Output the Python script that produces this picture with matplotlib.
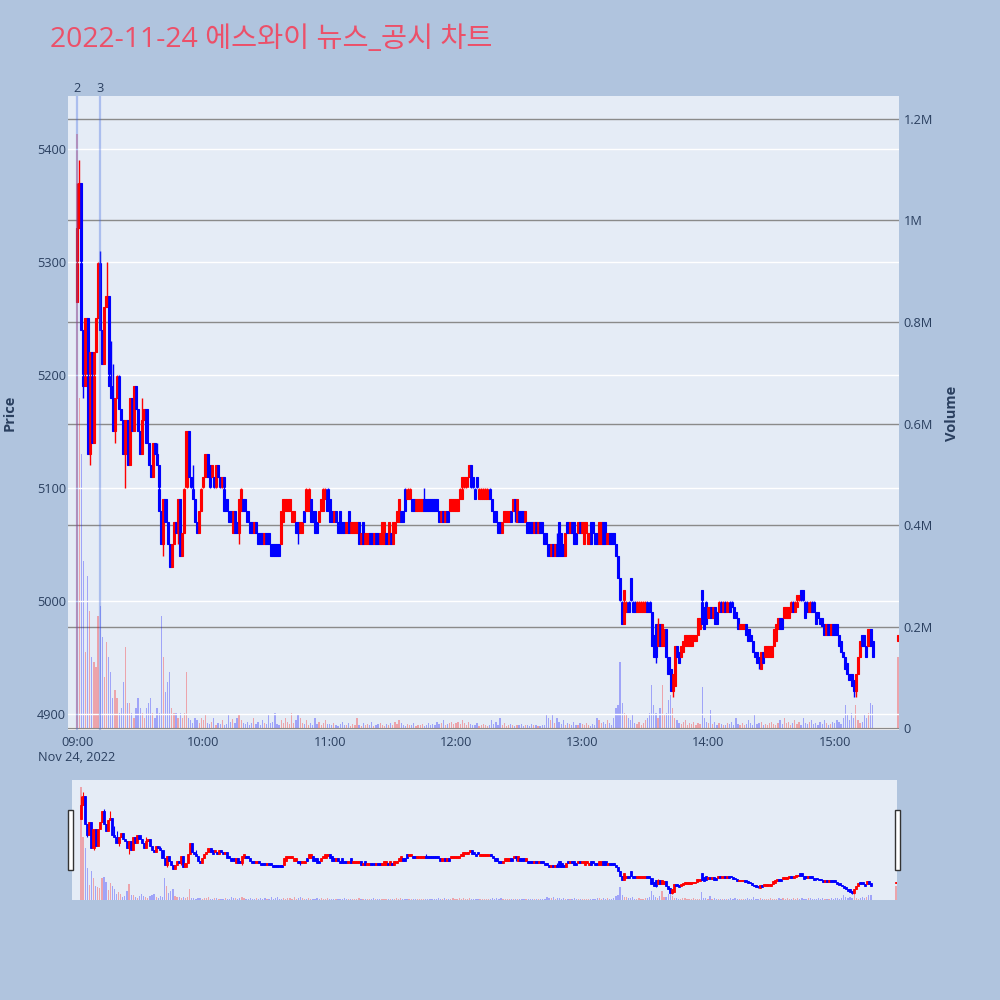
import matplotlib
matplotlib.use('Agg')
import matplotlib.pyplot as plt
from matplotlib.patches import Rectangle
import matplotlib.transforms as mtransforms

plt.rcParams['font.family'] = ['Open Sans', 'Noto Sans CJK KR', 'DejaVu Sans']

title = '2022-11-24 에스와이 뉴스_공시 차트'
date_label = 'Nov 24, 2022'
hour_labels = ['09:00', '10:00', '11:00', '12:00', '13:00', '14:00', '15:00']
hour_minutes = [0, 60, 120, 180, 240, 300, 360]
price_ticks = [4900, 5000, 5100, 5200, 5300, 5400]
volume_ticks = [0, 200000, 400000, 600000, 800000, 1000000, 1200000]
volume_tick_labels = ['0', '0.2M', '0.4M', '0.6M', '0.8M', '1M', '1.2M']
news_minutes = [0, 11]
news_labels = ['2', '3']

# minute index from 09:00 (continuous session 0..378, closing auction at 390)
minutes = list(range(379)) + [390]
opens = [
    5265, 5330, 5370, 5240, 5190, 5250, 5130, 5220, 5140, 5220,
    5250, 5300, 5240, 5210, 5260, 5270, 5190, 5180, 5150, 5180,
    5200, 5170, 5160, 5130, 5160, 5120, 5180, 5150, 5190, 5170,
    5150, 5130, 5160, 5170, 5140, 5120, 5110, 5140, 5130, 5120,
    5080, 5050, 5090, 5070, 5050, 5030, 5050, 5070, 5060, 5090,
    5040, 5060, 5100, 5150, 5110, 5100, 5090, 5070, 5060, 5080,
    5100, 5110, 5130, 5120, 5110, 5110, 5100, 5120, 5110, 5100,
    5110, 5090, 5080, 5080, 5060, 5080, 5070, 5060, 5080, 5090,
    5090, 5080, 5070, 5070, 5060, 5070, 5060, 5060, 5060, 5050,
    5060, 5060, 5050, 5050, 5050, 5050, 5050, 5050, 5070, 5080,
    5080, 5080, 5070, 5070, 5070, 5070, 5060, 5060, 5080, 5080,
    5080, 5090, 5080, 5080, 5070, 5070, 5080, 5080, 5090, 5100,
    5090, 5080, 5070, 5080, 5070, 5080, 5070, 5070, 5060, 5080,
    5060, 5060, 5060, 5060, 5070, 5050, 5070, 5050, 5050, 5060,
    5060, 5050, 5060, 5060, 5050, 5050, 5050, 5060, 5050, 5060,
    5050, 5060, 5070, 5070, 5080, 5080, 5100, 5090, 5090, 5090,
    5090, 5080, 5080, 5080, 5080, 5090, 5090, 5090, 5090, 5090,
    5090, 5090, 5080, 5070, 5080, 5070, 5080, 5080, 5080, 5080,
    5080, 5080, 5090, 5090, 5100, 5100, 5110, 5120, 5110, 5100,
    5110, 5090, 5090, 5090, 5090, 5090, 5100, 5090, 5080, 5080,
    5070, 5070, 5060, 5070, 5070, 5070, 5080, 5080, 5090, 5070,
    5080, 5080, 5080, 5070, 5070, 5070, 5070, 5060, 5070, 5060,
    5070, 5070, 5060, 5060, 5050, 5040, 5050, 5040, 5050, 5070,
    5060, 5050, 5040, 5070, 5060, 5070, 5070, 5060, 5060, 5070,
    5060, 5050, 5060, 5050, 5070, 5070, 5060, 5060, 5050, 5050,
    5070, 5070, 5050, 5060, 5060, 5060, 5050, 5040, 5020, 5000,
    4980, 4990, 5000, 5020, 5000, 5000, 4990, 4990, 4990, 4990,
    4990, 5000, 5000, 4990, 4970, 4980, 4960, 4980, 4960, 4960,
    4975, 4950, 4940, 4920, 4925, 4960, 4955, 4950, 4955, 4960,
    4960, 4960, 4960, 4965, 4965, 4970, 4975, 5010, 4995, 5000,
    4985, 4995, 4985, 4995, 4990, 4990, 5000, 4990, 5000, 4990,
    5000, 5000, 4995, 4990, 4985, 4975, 4975, 4975, 4980, 4975,
    4970, 4965, 4955, 4955, 4950, 4940, 4955, 4950, 4950, 4950,
    4950, 4960, 4965, 4975, 4985, 4985, 4985, 4985, 4985, 4990,
    5000, 4990, 4995, 5000, 5010, 5010, 5000, 5000, 4990, 5000,
    5000, 4990, 4990, 4985, 4985, 4980, 4970, 4980, 4970, 4980,
    4980, 4980, 4970, 4965, 4955, 4950, 4945, 4935, 4935, 4930,
    4920, 4935, 4950, 4970, 4970, 4960, 4960, 4975, 4965,
    4965,
]
closes = [
    5330, 5370, 5240, 5190, 5250, 5130, 5220, 5140, 5220, 5250,
    5300, 5240, 5210, 5260, 5270, 5190, 5180, 5150, 5180, 5200,
    5170, 5160, 5130, 5160, 5120, 5180, 5150, 5190, 5170, 5150,
    5130, 5160, 5170, 5140, 5120, 5110, 5140, 5130, 5120, 5080,
    5050, 5090, 5070, 5050, 5030, 5050, 5070, 5060, 5090, 5040,
    5060, 5100, 5150, 5110, 5100, 5090, 5070, 5060, 5080, 5100,
    5110, 5130, 5110, 5100, 5120, 5100, 5120, 5110, 5100, 5110,
    5080, 5080, 5070, 5070, 5080, 5060, 5060, 5090, 5100, 5080,
    5080, 5070, 5060, 5060, 5070, 5060, 5050, 5050, 5050, 5060,
    5050, 5050, 5040, 5040, 5040, 5040, 5040, 5080, 5090, 5090,
    5090, 5090, 5080, 5080, 5060, 5060, 5070, 5070, 5070, 5100,
    5100, 5070, 5070, 5060, 5060, 5080, 5090, 5100, 5100, 5080,
    5070, 5070, 5080, 5070, 5060, 5060, 5060, 5060, 5070, 5060,
    5070, 5070, 5070, 5070, 5050, 5060, 5050, 5060, 5060, 5050,
    5050, 5060, 5050, 5050, 5060, 5070, 5070, 5050, 5070, 5050,
    5070, 5070, 5080, 5090, 5070, 5070, 5080, 5100, 5100, 5080,
    5080, 5090, 5090, 5090, 5090, 5080, 5080, 5080, 5080, 5080,
    5080, 5080, 5070, 5080, 5070, 5080, 5070, 5090, 5090, 5090,
    5090, 5090, 5100, 5110, 5110, 5110, 5120, 5100, 5100, 5090,
    5100, 5100, 5100, 5100, 5100, 5100, 5090, 5080, 5070, 5070,
    5060, 5060, 5070, 5080, 5080, 5080, 5070, 5090, 5080, 5090,
    5070, 5070, 5070, 5080, 5060, 5060, 5060, 5070, 5060, 5070,
    5060, 5060, 5050, 5050, 5040, 5050, 5040, 5050, 5040, 5040,
    5040, 5040, 5060, 5060, 5070, 5060, 5050, 5050, 5070, 5060,
    5070, 5070, 5070, 5060, 5050, 5060, 5050, 5050, 5070, 5070,
    5050, 5050, 5060, 5050, 5050, 5050, 5040, 5020, 5000, 4980,
    5010, 5000, 4990, 5000, 4990, 4990, 5000, 5000, 5000, 5000,
    5000, 4990, 4990, 4960, 4950, 4950, 4980, 4960, 4980, 4975,
    4950, 4935, 4920, 4935, 4960, 4950, 4945, 4960, 4965, 4970,
    4970, 4970, 4970, 4970, 4970, 4985, 4985, 4980, 4975, 4980,
    4995, 4985, 4995, 4980, 4980, 5000, 4990, 5000, 4990, 5000,
    4990, 4995, 4985, 4985, 4975, 4980, 4980, 4980, 4970, 4965,
    4965, 4955, 4950, 4945, 4945, 4955, 4945, 4960, 4960, 4960,
    4960, 4975, 4980, 4985, 4975, 4975, 4995, 4995, 4995, 5000,
    4990, 5000, 5005, 5005, 5000, 5000, 4985, 4990, 5000, 4990,
    4990, 4980, 4985, 4980, 4978, 4970, 4980, 4970, 4980, 4970,
    4970, 4970, 4960, 4955, 4950, 4940, 4935, 4930, 4925, 4920,
    4935, 4950, 4965, 4960, 4960, 4950, 4975, 4960, 4950,
    4970,
]
high_wicks = {0: 5370, 1: 5390, 11: 5310, 14: 5300, 16: 5230, 17: 5210, 31: 5180,
              38: 5140, 53: 5140, 55: 5120, 165: 5100, 228: 5060, 276: 4985}
low_wicks = {3: 5180, 6: 5120, 18: 5140, 23: 5100, 41: 5040, 48: 5050, 77: 5050,
             105: 5050, 208: 5070, 275: 4945, 283: 4915, 324: 4940, 369: 4915,
             370: 4915}

# volume in thousand shares
volumes_k = [
    1170, 650, 540, 330, 150, 300, 230, 140, 130, 120,
    220, 240, 180, 100, 170, 140, 110, 60, 75, 60,
    30, 40, 90, 160, 50, 50, 30, 20, 40, 60,
    40, 30, 20, 40, 50, 60, 30, 20, 40, 30,
    220, 140, 70, 90, 110, 40, 30, 30, 20, 30,
    20, 30, 110, 20, 15, 10, 20, 15, 10, 20,
    15, 25, 10, 8, 12, 20, 6, 10, 8, 15,
    5, 8, 25, 12, 18, 10, 20, 25, 15, 10,
    8, 12, 6, 10, 20, 8, 12, 5, 15, 10,
    8, 25, 10, 12, 30, 8, 6, 15, 10, 20,
    12, 8, 30, 10, 15, 25, 20, 10, 8, 15,
    6, 10, 5, 20, 8, 12, 5, 10, 15, 8,
    8, 5, 10, 6, 4, 8, 12, 5, 6, 10,
    4, 8, 5, 20, 6, 4, 10, 5, 8, 6,
    12, 4, 6, 8, 10, 5, 4, 8, 6, 10,
    5, 12, 8, 15, 10, 6, 4, 8, 5, 6,
    10, 4, 6, 5, 8, 4, 6, 10, 5, 8,
    6, 12, 8, 10, 15, 6, 8, 10, 12, 8,
    10, 12, 8, 15, 10, 6, 12, 8, 5, 6,
    10, 4, 6, 8, 5, 4, 6, 15, 8, 12,
    5, 20, 6, 10, 4, 6, 8, 5, 4, 6,
    5, 8, 4, 6, 5, 4, 8, 6, 5, 4,
    4, 6, 5, 25, 20, 15, 25, 10, 20, 12,
    8, 15, 5, 10, 8, 6, 12, 5, 6, 10,
    8, 5, 10, 6, 4, 8, 5, 20, 15, 10,
    12, 8, 15, 10, 6, 20, 40, 45, 130, 50,
    30, 25, 20, 15, 25, 10, 8, 12, 6, 10,
    15, 20, 30, 85, 45, 30, 20, 40, 85, 25,
    30, 55, 65, 40, 20, 15, 10, 8, 12, 15,
    6, 10, 8, 12, 6, 10, 8, 80, 20, 12,
    10, 35, 8, 12, 6, 10, 8, 5, 6, 10,
    8, 12, 6, 20, 8, 5, 10, 6, 8, 15,
    10, 6, 25, 8, 10, 12, 6, 8, 5, 10,
    12, 8, 6, 10, 15, 8, 20, 10, 12, 6,
    10, 15, 8, 12, 6, 20, 10, 8, 12, 15,
    8, 10, 6, 12, 8, 15, 10, 6, 8, 12,
    10, 15, 12, 8, 20, 45, 25, 15, 30, 20,
    45, 15, 10, 12, 25, 20, 30, 50, 45,
    140,
]

UP = '#ff0000'
DOWN = '#0000ff'
TXT = '#2a3f5f'
BG = '#b0c4de'
PLOT_BG = '#e5ecf6'

highs = [max(o, c, high_wicks.get(m, 0)) for m, o, c in zip(minutes, opens, closes)]
lows = [min(o, c, low_wicks.get(m, 99999)) for m, o, c in zip(minutes, opens, closes)]
cols = [UP if c >= o else DOWN for o, c in zip(opens, closes)]
body_bottom = [min(o, c) for o, c in zip(opens, closes)]
body_height = [abs(c - o) for o, c in zip(opens, closes)]
volumes = [v * 1000 for v in volumes_k]

XLIM = (-4.3, 390.5)
PLIM = (4885.8, 5446.9)
VLIM = (-3900, 1245300)

fig = plt.figure(figsize=(10, 10), dpi=100, facecolor=BG)


def draw(ax_v, ax_p, wick_lw, body_lw):
    ax_v.set_facecolor(PLOT_BG)
    ax_v.bar(minutes, volumes, width=0.6, color=cols, alpha=0.3, linewidth=0)
    ax_p.vlines(minutes, lows, highs, colors=cols, linewidth=wick_lw)
    ax_p.bar(minutes, body_height, bottom=body_bottom, width=1.0, color=cols,
             edgecolor=cols, linewidth=body_lw)
    ax_v.set_xlim(*XLIM)
    ax_v.set_ylim(*VLIM)
    ax_p.set_ylim(*PLIM)
    for a in (ax_v, ax_p):
        for s in a.spines.values():
            s.set_visible(False)


# main chart
ax_v = fig.add_axes([0.068, 0.270, 0.831, 0.634])
ax_p = ax_v.twinx()
ax_v.set_axisbelow(True)
ax_v.set_yticks(volume_ticks)
ax_v.set_yticklabels(volume_tick_labels)
ax_v.grid(axis='y', color='#8a8a8a', linewidth=1.0)
ax_v.grid(axis='x', visible=False)
ax_v.axhline(0, color='white', linewidth=2, zorder=0.5)
draw(ax_v, ax_p, 1.0, 0.8)
ax_p.set_yticks(price_ticks)
ax_p.grid(axis='y', color='white', linewidth=1.0)
ax_p.yaxis.tick_left()
ax_v.yaxis.tick_right()
ax_p.tick_params(axis='y', length=0, pad=1.5, labelsize=9.2, labelcolor=TXT)
ax_v.tick_params(axis='y', length=0, pad=3.5, labelsize=9.2, labelcolor=TXT)
ax_v.set_xticks(hour_minutes)
ax_v.set_xticklabels([hour_labels[0] + '\n' + date_label] + hour_labels[1:])
ax_v.tick_params(axis='x', length=0, pad=4, labelsize=9.2, labelcolor=TXT)
ax_p.set_zorder(ax_v.get_zorder() + 1)

trans = mtransforms.blended_transform_factory(ax_p.transData, ax_p.transAxes)
for m, lab in zip(news_minutes, news_labels):
    ax_p.axvline(m, color='#4169e1', alpha=0.35, linewidth=1.6)
    ax_p.text(m, 1.001, lab, transform=trans, ha='center', va='bottom',
              fontsize=9.2, color=TXT)

fig.text(0.010, 0.587, 'Price', rotation=90, ha='center', va='center',
         fontsize=10.5, fontweight='bold', color=TXT)
fig.text(0.952, 0.587, 'Volume', rotation=90, ha='center', va='center',
         fontsize=10.5, fontweight='bold', color=TXT)
fig.text(0.050, 0.960, title, ha='left', va='center', fontsize=20.4, color='#ec5069')

# range slider
ax_sv = fig.add_axes([0.072, 0.100, 0.825, 0.120])
ax_sp = ax_sv.twinx()
draw(ax_sv, ax_sp, 0.8, 0.6)
for a in (ax_sv, ax_sp):
    a.set_xticks([])
    a.set_yticks([])
for xh in (0.0675, 0.8945):
    fig.patches.append(Rectangle((xh, 0.130), 0.0055, 0.060, transform=fig.transFigure,
                                 facecolor='white', edgecolor='#333333', linewidth=1))

fig.savefig('out.png', dpi=100, facecolor=BG)
